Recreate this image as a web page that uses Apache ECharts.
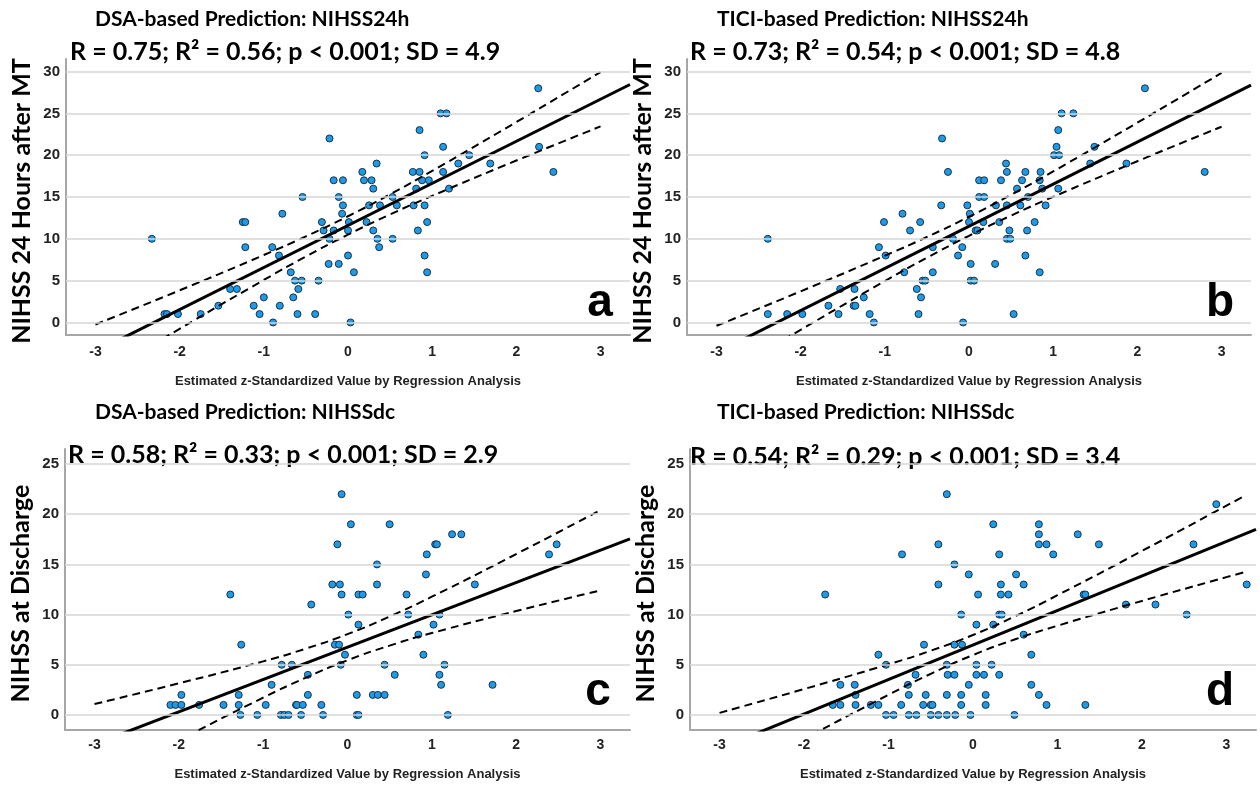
<!DOCTYPE html>
<html>
<head>
<meta charset="utf-8">
<title>NIHSS prediction scatter plots</title>
<script src="https://cdn.jsdelivr.net/npm/echarts@6/dist/echarts.min.js"></script>
<style>
  html, body { margin: 0; padding: 0; background: #fff; }
  #chart { width: 1260px; height: 787px; }
</style>
</head>
<body>
<div id="chart"></div>
<script>
// tick labels
const xTicks = [-3, -2, -1, 0, 1, 2, 3];
const yTicks24h = [0, 5, 10, 15, 20, 25, 30];
const yTicksDc = [0, 5, 10, 15, 20, 25];

// panel a: DSA-based, NIHSS 24h  [estimated z, NIHSS]
const pointsA = [
  [-2.33, 10], [-2.18, 1], [-2.15, 1], [-2.02, 1], [-1.75, 1], [-1.54, 2], [-1.40, 4], [-1.32, 4],
  [-1.25, 12], [-1.22, 12], [-1.22, 9], [-1.12, 2], [-1.05, 1], [-1.00, 3], [-0.90, 9], [-0.89, 0],
  [-0.82, 8], [-0.81, 2], [-0.78, 13], [-0.68, 6], [-0.65, 3], [-0.63, 5], [-0.60, 1], [-0.59, 4],
  [-0.55, 5], [-0.54, 15], [-0.39, 1], [-0.35, 5], [-0.31, 12], [-0.29, 11], [-0.23, 7], [-0.22, 22],
  [-0.22, 10], [-0.17, 17], [-0.17, 11], [-0.11, 15], [-0.11, 7], [-0.07, 13], [-0.06, 17], [-0.06, 14],
  [0.00, 11], [0.00, 8], [0.01, 12], [0.03, 0], [0.07, 6], [0.17, 18], [0.19, 17], [0.22, 12],
  [0.25, 14], [0.28, 17], [0.30, 16], [0.30, 11], [0.34, 19], [0.35, 10], [0.37, 9], [0.38, 14],
  [0.53, 15], [0.53, 10], [0.58, 14], [0.77, 18], [0.78, 14], [0.81, 16], [0.83, 11], [0.85, 23],
  [0.85, 18], [0.88, 17], [0.91, 20], [0.91, 14], [0.91, 8], [0.94, 12], [0.94, 6], [0.96, 17],
  [1.10, 25], [1.13, 21], [1.13, 18], [1.17, 25], [1.20, 16], [1.31, 19], [1.44, 20], [1.69, 19],
  [2.26, 28], [2.27, 21], [2.44, 18]
];
// panel b: TICI-based, NIHSS 24h
const pointsB = [
  [-2.39, 10], [-2.39, 1], [-2.16, 1], [-1.98, 1], [-1.67, 2], [-1.55, 1], [-1.53, 4], [-1.37, 2],
  [-1.36, 4], [-1.35, 2], [-1.25, 3], [-1.18, 1], [-1.13, 0], [-1.07, 9], [-1.01, 12], [-0.99, 8],
  [-0.79, 13], [-0.77, 6], [-0.70, 11], [-0.62, 4], [-0.60, 1], [-0.58, 12], [-0.57, 3], [-0.55, 5],
  [-0.52, 5], [-0.43, 9], [-0.43, 6], [-0.33, 14], [-0.32, 22], [-0.25, 18], [-0.19, 10], [-0.13, 8],
  [-0.08, 9], [-0.07, 0], [-0.02, 14], [0.00, 12], [0.01, 13], [0.02, 7], [0.02, 5], [0.06, 5],
  [0.08, 11], [0.10, 11], [0.12, 17], [0.12, 15], [0.17, 12], [0.18, 17], [0.18, 15], [0.31, 7],
  [0.32, 14], [0.36, 12], [0.38, 17], [0.44, 19], [0.45, 18], [0.45, 14], [0.45, 10], [0.48, 11],
  [0.49, 10], [0.53, 1], [0.57, 16], [0.61, 14], [0.63, 17], [0.67, 18], [0.67, 8], [0.69, 11],
  [0.70, 15], [0.78, 12], [0.84, 17], [0.84, 6], [0.85, 18], [0.87, 16], [0.91, 14], [1.01, 20],
  [1.04, 21], [1.06, 23], [1.06, 16], [1.07, 20], [1.10, 25], [1.24, 25], [1.44, 19], [1.49, 21],
  [1.87, 19], [2.09, 28], [2.80, 18]
];
// panel c: DSA-based, NIHSS at discharge
const pointsC = [
  [-2.10, 1], [-2.04, 1], [-1.97, 2], [-1.97, 1], [-1.76, 1], [-1.47, 1], [-1.39, 12], [-1.29, 2],
  [-1.29, 1], [-1.27, 0], [-1.26, 7], [-1.07, 0], [-0.97, 1], [-0.90, 3], [-0.79, 0], [-0.78, 5],
  [-0.75, 0], [-0.70, 0], [-0.66, 5], [-0.61, 1], [-0.60, 1], [-0.55, 0], [-0.53, 1], [-0.47, 4],
  [-0.47, 2], [-0.43, 11], [-0.31, 1], [-0.29, 0], [-0.18, 13], [-0.15, 7], [-0.12, 17], [-0.10, 7],
  [-0.09, 13], [-0.08, 5], [-0.07, 22], [-0.07, 12], [-0.03, 6], [0.01, 10], [0.04, 19], [0.11, 2],
  [0.11, 0], [0.13, 0], [0.13, 12], [0.13, 9], [0.18, 12], [0.30, 2], [0.35, 15], [0.35, 13],
  [0.36, 2], [0.44, 5], [0.44, 2], [0.50, 19], [0.56, 4], [0.70, 12], [0.72, 10], [0.84, 8],
  [0.90, 6], [0.93, 14], [0.94, 16], [1.02, 9], [1.04, 17], [1.06, 17], [1.09, 10], [1.09, 4],
  [1.11, 3], [1.15, 5], [1.19, 0], [1.24, 18], [1.35, 18], [1.51, 13], [1.72, 3], [2.39, 16],
  [2.48, 17]
];
// panel d: TICI-based, NIHSS at discharge
const pointsD = [
  [-1.75, 12], [-1.66, 1], [-1.57, 3], [-1.57, 1], [-1.40, 3], [-1.39, 2], [-1.39, 1], [-1.21, 1],
  [-1.12, 6], [-1.12, 1], [-1.03, 5], [-1.03, 0], [-0.94, 0], [-0.85, 1], [-0.84, 16], [-0.77, 3],
  [-0.76, 2], [-0.76, 0], [-0.68, 4], [-0.67, 0], [-0.59, 1], [-0.58, 7], [-0.56, 2], [-0.50, 1],
  [-0.48, 1], [-0.50, 0], [-0.41, 17], [-0.41, 13], [-0.41, 0], [-0.31, 22], [-0.31, 5], [-0.31, 2],
  [-0.31, 0], [-0.30, 4], [-0.22, 15], [-0.22, 7], [-0.22, 4], [-0.21, 0], [-0.14, 10], [-0.13, 7],
  [-0.14, 2], [-0.14, 1], [-0.05, 14], [-0.05, 3], [-0.03, 0], [0.04, 9], [0.04, 5], [0.04, 4],
  [0.06, 12], [0.13, 4], [0.15, 2], [0.15, 1], [0.22, 5], [0.24, 19], [0.24, 9], [0.31, 16],
  [0.31, 10], [0.31, 4], [0.33, 13], [0.33, 12], [0.34, 10], [0.42, 12], [0.49, 0], [0.51, 14],
  [0.60, 13], [0.60, 8], [0.69, 6], [0.69, 3], [0.78, 19], [0.78, 18], [0.78, 17], [0.78, 2],
  [0.87, 17], [0.87, 1], [0.95, 16], [1.24, 18], [1.31, 12], [1.33, 12], [1.33, 1], [1.49, 17],
  [1.81, 11], [2.16, 11], [2.53, 10], [2.61, 17], [2.88, 21], [3.24, 13]
];

// regression lines (end points read at the plot edges)
const fitA = [[-3.35, -5.25], [3.35, 28.45]];
const fitB = [[-3.35, -5.38], [3.35, 28.38]];
const fitC = [[-3.35, -4.04], [3.35, 17.54]];
const fitD = [[-3.35, -4.55], [3.35, 18.49]];

// dashed confidence band, read at these z values
const bandX = [-3, -2, -1, -0.5, 0, 0.5, 1, 2, 3];
const bandXD = [-3, -2, -1, -0.5, 0, 0.5, 1, 2, 3, 3.23];
const upperA = [-0.24, 3.84, 8.06, 10.29, 12.7, 15.32, 18.12, 23.96, 29.94];
const lowerA = [-6.7, -0.76, 5.08, 7.88, 10.5, 12.91, 15.14, 19.36, 23.44];
const upperB = [-0.4, 3.72, 7.98, 10.22, 12.64, 15.27, 18.06, 23.88, 29.84];
const lowerB = [-6.84, -0.88, 4.94, 7.74, 10.36, 12.78, 15.02, 19.28, 23.4];
const upperC = [1.09, 3.15, 5.34, 6.59, 8.05, 9.81, 11.78, 16.03, 20.41];
const lowerC = [-6.91, -2.53, 1.72, 3.69, 5.45, 6.91, 8.16, 10.35, 12.41];
const upperD = [0.21, 2.58, 5.05, 6.4, 7.97, 9.84, 11.93, 16.34, 20.85, 21.9];
const lowerD = [-6.91, -2.4, 2.01, 4.1, 5.97, 7.54, 8.89, 11.36, 13.73, 14.26];

const titles = [
  ['DSA-based Prediction: NIHSS24h', 'R = 0.75; R\u00B2 = 0.56; p < 0.001; SD = 4.9'],
  ['TICI-based Prediction: NIHSS24h', 'R = 0.73; R\u00B2 = 0.54; p < 0.001; SD = 4.8'],
  ['DSA-based Prediction: NIHSSdc', 'R = 0.58; R\u00B2 = 0.33; p < 0.001; SD = 2.9'],
  ['TICI-based Prediction: NIHSSdc', 'R = 0.54; R\u00B2 = 0.29; p < 0.001; SD = 3.4']
];
const yNames = ['NIHSS 24 Hours after MT', 'NIHSS 24 Hours after MT', 'NIHSS at Discharge', 'NIHSS at Discharge'];
const xName = 'Estimated z-Standardized Value by Regression Analysis';
const letters = ['a', 'b', 'c', 'd'];

const panels = [
  { grid: { left: 66, top: 59, width: 564, height: 276 }, yMin: -1.5, yMax: 31.5, yTicks: yTicks24h,
    pts: pointsA, fit: fitA, bx: bandX, up: upperA, lo: lowerA,
    t1: [95, 19], t2: [70, 52], letter: [600, 303], xLabelMargin: 10, xNameGap: 40 },
  { grid: { left: 687, top: 59, width: 564, height: 276 }, yMin: -1.5, yMax: 31.5, yTicks: yTicks24h,
    pts: pointsB, fit: fitB, bx: bandX, up: upperB, lo: lowerB,
    t1: [717, 19], t2: [690, 52], letter: [1220, 303], xLabelMargin: 10, xNameGap: 40 },
  { grid: { left: 65, top: 449, width: 565, height: 281 }, yMin: -1.5, yMax: 26.5, yTicks: yTicksDc,
    pts: pointsC, fit: fitC, bx: bandX, up: upperC, lo: lowerC,
    t1: [95, 412], t2: [68, 455], letter: [598, 692], xLabelMargin: 8, xNameGap: 38 },
  { grid: { left: 690, top: 449, width: 566, height: 281 }, yMin: -1.5, yMax: 26.5, yTicks: yTicksDc,
    pts: pointsD, fit: fitD, bx: bandXD, up: upperD, lo: lowerD,
    t1: [717, 412], t2: [690, 457], letter: [1220, 692], xLabelMargin: 8, xNameGap: 38 }
];

const onlyTicks = (ticks) => (v) => {
  const r = Math.round(v);
  return Math.abs(v - r) < 1e-6 && ticks.indexOf(r) >= 0 ? String(r) : '';
};

const tickFont = { color: '#222', fontWeight: 'bold', fontFamily: 'Liberation Sans, Arial' };
const axisGray = '#a6a6a6';

const grids = [], xAxes = [], yAxes = [], series = [], graphics = [];

panels.forEach((p, i) => {
  grids.push(p.grid);
  xAxes.push({
    type: 'value', gridIndex: i, min: -3.35, max: 3.35, interval: 0.05,
    name: xName, nameLocation: 'middle', nameGap: p.xNameGap,
    nameTextStyle: { color: '#222', fontWeight: 'bold', fontSize: 13, fontFamily: 'Liberation Sans, Arial' },
    axisLine: { show: true, onZero: false, lineStyle: { color: axisGray, width: 2 } },
    axisTick: { show: false },
    splitLine: { show: false },
    axisLabel: Object.assign({ margin: p.xLabelMargin, fontSize: 14, formatter: onlyTicks(xTicks) }, tickFont)
  });
  yAxes.push({
    type: 'value', gridIndex: i, min: p.yMin, max: p.yMax, interval: 0.5,
    name: yNames[i], nameLocation: 'middle', nameGap: 32, nameRotate: 90,
    nameTextStyle: { color: '#000', fontWeight: 'bold', fontSize: 25, fontFamily: 'Lato', padding: [0, 8, 0, 0] },
    axisLine: { show: true, onZero: false, lineStyle: { color: axisGray, width: 2 } },
    axisTick: { show: false },
    splitLine: { show: false },
    axisLabel: Object.assign({ margin: 6, fontSize: 15, formatter: onlyTicks(p.yTicks) }, tickFont)
  });

  // horizontal grid lines at the tick values
  series.push({
    type: 'line', xAxisIndex: i, yAxisIndex: i, data: [], z: 1, silent: true,
    markLine: {
      silent: true, symbol: ['none', 'none'], animation: false,
      label: { show: false },
      lineStyle: { color: '#d6d6d6', width: 1.5, type: 'solid' },
      data: p.yTicks.map(v => ({ yAxis: v }))
    }
  });
  series.push({
    type: 'scatter', xAxisIndex: i, yAxisIndex: i, data: p.pts, z: 2,
    symbol: 'circle', symbolSize: 7,
    itemStyle: { color: '#1f9be6', borderColor: '#17324d', borderWidth: 1, opacity: 1 }
  });
  const dashed = { color: '#000', width: 2, type: [8, 5] };
  series.push({
    type: 'line', xAxisIndex: i, yAxisIndex: i, z: 3, smooth: true, symbol: 'none',
    data: p.bx.map((x, k) => [x, p.up[k]]), lineStyle: dashed
  });
  series.push({
    type: 'line', xAxisIndex: i, yAxisIndex: i, z: 3, smooth: true, symbol: 'none',
    data: p.bx.map((x, k) => [x, p.lo[k]]), lineStyle: dashed
  });
  series.push({
    type: 'line', xAxisIndex: i, yAxisIndex: i, z: 4, symbol: 'none',
    data: p.fit, lineStyle: { color: '#000', width: 3 }
  });

  graphics.push({
    type: 'text', x: p.t1[0], y: p.t1[1],
    style: { text: titles[i][0], fill: '#000', font: 'bold 21px Lato', verticalAlign: 'middle' }
  });
  graphics.push({
    type: 'text', x: p.t2[0], y: p.t2[1],
    style: { text: titles[i][1], fill: '#000', font: 'bold 25px Lato', verticalAlign: 'middle' }
  });
  graphics.push({
    type: 'text', x: p.letter[0], y: p.letter[1], z: 10,
    style: { text: letters[i], fill: '#000', font: 'bold 46px "Liberation Sans", Arial', align: 'center', verticalAlign: 'middle' }
  });
});

const chart = echarts.init(document.getElementById('chart'), null, { renderer: 'canvas' });
chart.setOption({
  animation: false,
  backgroundColor: '#fff',
  grid: grids,
  xAxis: xAxes,
  yAxis: yAxes,
  series: series,
  graphic: graphics
});
</script>
</body>
</html>
